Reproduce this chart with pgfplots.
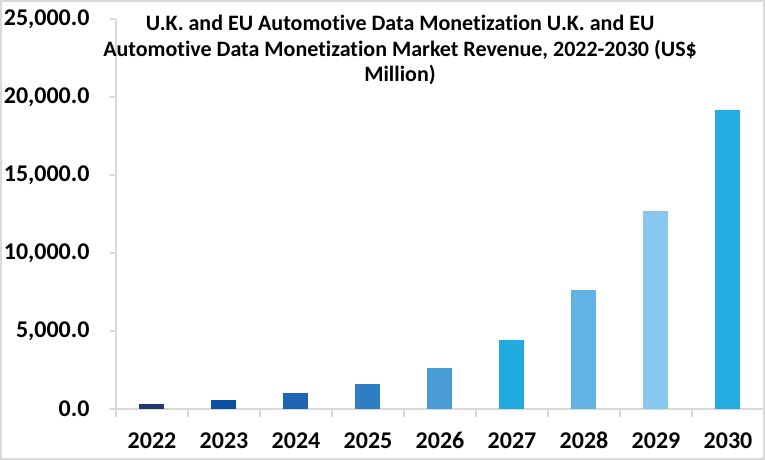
\documentclass[border=0pt]{standalone}
\usepackage{pgfplots}
\pgfplotsset{compat=1.18}
\usepackage{fontspec}
\setmainfont{Carlito}[Ligatures={NoCommon}]
\definecolor{c22}{HTML}{203A72}
\definecolor{c23}{HTML}{0B4F9F}
\definecolor{c24}{HTML}{1E64B4}
\definecolor{c25}{HTML}{2F7EC3}
\definecolor{c26}{HTML}{4A9CD5}
\definecolor{c27}{HTML}{22ABDE}
\definecolor{c28}{HTML}{62B3E3}
\definecolor{c29}{HTML}{88C8EF}
\definecolor{c30}{HTML}{22ACDF}
\definecolor{axgray}{HTML}{D9D9D9}
\begin{document}
\begin{tikzpicture}
\useasboundingbox (-116pt,-51pt) rectangle (649pt,409pt);
\draw[axgray, line width=2pt] (-115pt,-50pt) rectangle (648pt,408pt);
\begin{axis}[
  at={(0pt,0pt)}, anchor=south west,
  scale only axis, width=648pt, height=390pt,
  xmin=0, xmax=9, ymin=0, ymax=25000,
  axis lines*=left,
  axis line style={axgray, line width=1.2pt},
  ybar, bar width=25pt, bar shift=0pt,
  xtick={0.5,1.5,...,8.5},
  xticklabels={2022,2023,2024,2025,2026,2027,2028,2029,2030},
  minor xtick={0,1,...,9},
  ytick={0,5000,10000,15000,20000,25000},
  tick align=outside,
  major x tick style={draw=none},
  minor x tick style={axgray, line width=1.2pt},
  minor tick length=8pt,
  major y tick style={axgray, line width=1.2pt},
  major tick length=6pt,
  ticklabel style={font=\bfseries\fontsize{24}{24}\selectfont, text=black},
  /pgf/number format/assume math mode=true,
  /pgf/number format/fixed,
  /pgf/number format/fixed zerofill,
  /pgf/number format/precision=1,
  /pgf/number format/1000 sep={,},
  scaled y ticks=false,
  xticklabel style={yshift=-14pt, text height=16pt, text depth=0pt},
  yticklabel style={xshift=-17pt},
  clip=false,
]
\addplot[fill=c22, draw=none] coordinates {(0.5,320)};
\addplot[fill=c23, draw=none] coordinates {(1.5,580)};
\addplot[fill=c24, draw=none] coordinates {(2.5,1030)};
\addplot[fill=c25, draw=none] coordinates {(3.5,1600)};
\addplot[fill=c26, draw=none] coordinates {(4.5,2630)};
\addplot[fill=c27, draw=none] coordinates {(5.5,4420)};
\addplot[fill=c28, draw=none] coordinates {(6.5,7630)};
\addplot[fill=c29, draw=none] coordinates {(7.5,12690)};
\addplot[fill=c30, draw=none] coordinates {(8.5,19170)};
\end{axis}
\node[anchor=north, align=center, font=\bfseries\fontsize{22}{25.5}\selectfont] at (284pt,397pt)
  {U.K. and EU Automotive Data Monetization U.K. and EU\\Automotive Data Monetization Market Revenue, 2022-2030 (US\$\\Million)};
\end{tikzpicture}
\end{document}
